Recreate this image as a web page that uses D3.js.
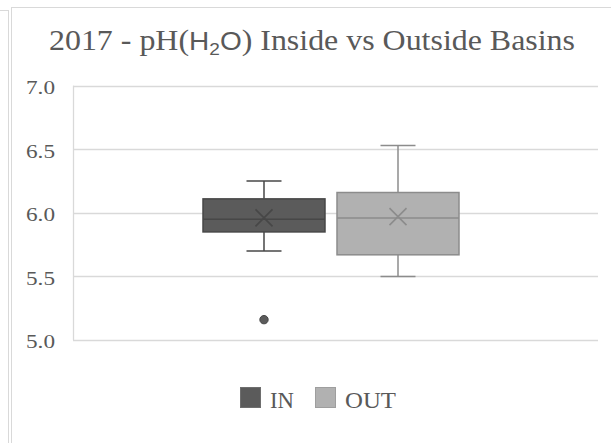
<!DOCTYPE html>
<html><head><meta charset="utf-8">
<script src="https://cdn.jsdelivr.net/npm/d3@7"></script>
<style>html,body{margin:0;padding:0;background:#fff;}svg{display:block;}</style>
</head><body>
<script>
const series = ["IN", "OUT"];
const mins = [5.70, 5.50];
const q1s = [5.85, 5.67];
const medians = [5.95, 5.96];
const q3s = [6.11, 6.16];
const maxs = [6.25, 6.53];
const means = [5.96, 5.97];
const outliers = [[5.16], []];
const yTicks = [5.0, 5.5, 6.0, 6.5, 7.0];
const fills = ["#5b5b5b", "#b1b1b1"];
const strokes = ["#474747", "#8c8c8c"];

const W = 611, H = 443;
const svg = d3.select("body").append("svg").attr("width", W).attr("height", H);

// frame lines
const frame = svg.append("g").attr("stroke", "#d9d9d9").attr("fill", "none");
frame.append("line").attr("x1", 0).attr("x2", 8).attr("y1", 10.5).attr("y2", 10.5);
frame.append("line").attr("x1", 8.5).attr("x2", 8.5).attr("y1", 10).attr("y2", H);
frame.append("line").attr("x1", 11.5).attr("x2", 11.5).attr("y1", 7).attr("y2", H);
frame.append("line").attr("x1", 11).attr("x2", W).attr("y1", 7.5).attr("y2", 7.5);

const plotL = 73, plotR = 598;
const y = d3.scaleLinear().domain([5, 7]).range([340, 85.7]);
const x = d3.scaleBand().domain(series).range([203, 459]).paddingInner(0.0896).paddingOuter(0);

// gridlines
svg.append("g").selectAll("line").data(yTicks).join("line")
  .attr("x1", plotL).attr("x2", plotR)
  .attr("y1", d => Math.round(y(d)) + 0.5).attr("y2", d => Math.round(y(d)) + 0.5)
  .attr("stroke", "#d9d9d9").attr("stroke-width", 1.3);
svg.append("line").attr("x1", plotL + 0.5).attr("x2", plotL + 0.5)
  .attr("y1", y(7)).attr("y2", y(5)).attr("stroke", "#d9d9d9").attr("stroke-width", 1.3);

// y labels
svg.append("g").selectAll("text").data(yTicks).join("text")
  .attr("x", 55).attr("y", d => y(d) + 8.3)
  .attr("text-anchor", "end")
  .attr("font-family", "Liberation Serif, Times New Roman, serif")
  .attr("font-size", 18).attr("fill", "#595959")
  .attr("textLength", 29).attr("lengthAdjust", "spacingAndGlyphs")
  .text(d => d3.format(".1f")(d));

// boxes
const data = series.map((s, i) => ({s, i, min: mins[i], q1: q1s[i], med: medians[i], q3: q3s[i], max: maxs[i], mean: means[i], out: outliers[i]}));
const g = svg.append("g").selectAll("g").data(data).join("g");
const capW = 35;
g.each(function(d) {
  const gg = d3.select(this);
  const x0 = x(d.s), bw = x.bandwidth(), cx = x0 + bw / 2;
  const st = strokes[d.i];
  gg.append("line").attr("x1", cx).attr("x2", cx).attr("y1", y(d.max)).attr("y2", y(d.q3)).attr("stroke", st).attr("stroke-width", 1.5);
  gg.append("line").attr("x1", cx).attr("x2", cx).attr("y1", y(d.q1)).attr("y2", y(d.min)).attr("stroke", st).attr("stroke-width", 1.5);
  gg.append("line").attr("x1", cx - capW / 2).attr("x2", cx + capW / 2).attr("y1", y(d.max)).attr("y2", y(d.max)).attr("stroke", st).attr("stroke-width", 1.5);
  gg.append("line").attr("x1", cx - capW / 2).attr("x2", cx + capW / 2).attr("y1", y(d.min)).attr("y2", y(d.min)).attr("stroke", st).attr("stroke-width", 1.5);
  gg.append("rect").attr("x", x0).attr("y", y(d.q3)).attr("width", bw).attr("height", y(d.q1) - y(d.q3))
    .attr("fill", fills[d.i]).attr("stroke", st).attr("stroke-width", 1.5);
  gg.append("line").attr("x1", x0).attr("x2", x0 + bw).attr("y1", y(d.med)).attr("y2", y(d.med)).attr("stroke", st).attr("stroke-width", 1.5);
  const r = 8.5, my = y(d.mean);
  gg.append("path").attr("d", `M${cx - r},${my - r}L${cx + r},${my + r}M${cx - r},${my + r}L${cx + r},${my - r}`)
    .attr("stroke", st).attr("stroke-width", 1.6).attr("fill", "none");
  gg.selectAll("circle").data(d.out).join("circle")
    .attr("cx", cx).attr("cy", v => y(v)).attr("r", 4.2).attr("fill", fills[d.i]).attr("stroke", st).attr("stroke-width", 1);
});

// title
const title = svg.append("text").attr("x", 49).attr("y", 50)
  .attr("font-family", "Liberation Serif, Times New Roman, serif").attr("font-size", 28.5).attr("fill", "#595959")
  .attr("textLength", 526).attr("lengthAdjust", "spacingAndGlyphs");
title.append("tspan").text("2017 - pH(");
title.append("tspan").attr("font-family", "Liberation Sans, Arial, sans-serif").attr("font-size", 25).text("H");
title.append("tspan").attr("font-family", "Liberation Sans, Arial, sans-serif").attr("font-size", 17).attr("dy", 5).text("2");
title.append("tspan").attr("font-family", "Liberation Sans, Arial, sans-serif").attr("font-size", 25).attr("dy", -5).text("O");
title.append("tspan").text(") Inside vs Outside Basins");

// legend
const legX = [240, 315], legTX = [270, 345], legTL = [24, 51];
const leg = svg.append("g").selectAll("g").data(series).join("g");
leg.append("rect").attr("x", (d, i) => legX[i] + 0.5).attr("y", 387.5).attr("width", 20).attr("height", 20)
  .attr("fill", (d, i) => fills[i]).attr("stroke", (d, i) => i === 0 ? "#6e6e6e" : "#9e9e9e").attr("stroke-width", 1);
leg.append("text").attr("x", (d, i) => legTX[i]).attr("y", 408)
  .attr("font-family", "Liberation Serif, Times New Roman, serif").attr("font-size", 22.5).attr("fill", "#595959")
  .attr("textLength", (d, i) => legTL[i]).attr("lengthAdjust", "spacingAndGlyphs")
  .text(d => d);
</script>
</body></html>
